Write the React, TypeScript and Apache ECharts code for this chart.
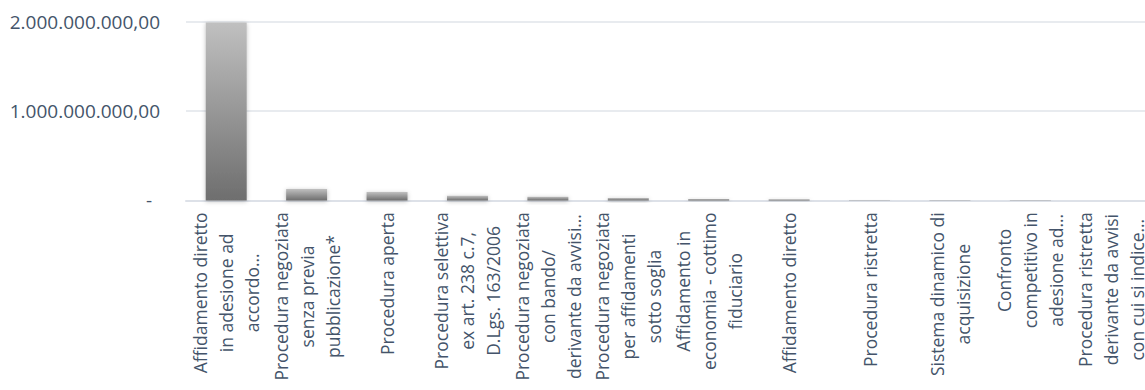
import React, { useEffect, useRef } from "react";
import * as echarts from "echarts";

const categoryLines: string[][] = [
  ["Affidamento diretto", "in adesione ad", "accordo…"],
  ["Procedura negoziata", "senza previa", "pubblicazione*"],
  ["Procedura aperta"],
  ["Procedura selettiva", "ex art. 238 c.7,", "D.Lgs. 163/2006"],
  ["Procedura negoziata", "con bando/", "derivante da avvisi…"],
  ["Procedura negoziata", "per affidamenti", "sotto soglia"],
  ["Affidamento in", "economia - cottimo", "fiduciario"],
  ["Affidamento diretto"],
  ["Procedura ristretta"],
  ["Sistema dinamico di", "acquisizione"],
  ["Confronto", "competitivo in", "adesione ad…"],
  ["Procedura ristretta", "derivante da avvisi", "con cui si indice…"],
];

const categories: string[] = categoryLines.map((l) => l.join("\n"));

const values: number[] = [
  1995000000, 128000000, 94000000, 52000000, 42000000, 27000000, 16000000,
  14000000, 2500000, 1200000, 600000, 250000,
];

const yTicks: number[] = [0, 1000000000, 2000000000];

function fmt(v: number): string {
  if (v === 0) return "{d|-}";
  const s = Math.round(v).toString().replace(/\B(?=(\d{3})+(?!\d))/g, ".");
  return "{n|" + s + ",00}";
}

const FONT = "'Open Sans', sans-serif";
const TEXT_COLOR = "#44546A";
const FS_Y = 19;
const FS_X = 17.5;

export default function App() {
  const ref = useRef<HTMLDivElement>(null);
  useEffect(() => {
    document.body.style.margin = "0";
    const chart = echarts.init(ref.current!, null, { renderer: "svg" });
    chart.setOption({
      animation: false,
      grid: {
        left: 186,
        top: 22,
        width: 965,
        height: 178.4,
        containLabel: false,
        outerBoundsMode: "none",
      },
      xAxis: {
        type: "category",
        data: categories,
        axisTick: { show: false },
        axisLine: { show: true, lineStyle: { color: "#DDE1E8", width: 2 } },
        axisLabel: {
          interval: 0,
          rotate: 90,
          margin: 12,
          fontFamily: FONT,
          fontSize: FS_X,
          color: TEXT_COLOR,
          lineHeight: 26,
          formatter: (val: string) =>
            val
              .split("\n")
              .map((l) => "{c|" + l + "}")
              .join("\n"),
          rich: {
            c: {
              align: "center",
              fontFamily: FONT,
              fontSize: FS_X,
              color: TEXT_COLOR,
              lineHeight: 26,
            },
          },
        },
      },
      yAxis: {
        type: "value",
        min: yTicks[0],
        max: yTicks[yTicks.length - 1],
        interval: yTicks[1] - yTicks[0],
        axisLine: { show: false },
        axisTick: { show: false },
        splitLine: { lineStyle: { color: "#E1E4EA", width: 1.5 } },
        axisLabel: {
          margin: 26,
          formatter: (v: number) => fmt(v),
          rich: {
            n: { fontFamily: FONT, fontSize: FS_Y, color: TEXT_COLOR },
            d: {
              fontFamily: FONT,
              fontSize: FS_Y,
              color: TEXT_COLOR,
              padding: [0, 8, 0, 0],
            },
          },
        },
      },
      series: [
        {
          type: "bar",
          data: values,
          barWidth: 41,
          itemStyle: {
            color: new echarts.graphic.LinearGradient(0, 0, 0, 1, [
              { offset: 0, color: "#C0C0C0" },
              { offset: 1, color: "#6E6E6E" },
            ]),
            shadowBlur: 4,
            shadowColor: "rgba(0,0,0,0.25)",
            shadowOffsetY: 1,
          },
        },
      ],
    });
    return () => chart.dispose();
  }, []);
  return <div ref={ref} style={{ width: 1145, height: 390 }} />;
}
